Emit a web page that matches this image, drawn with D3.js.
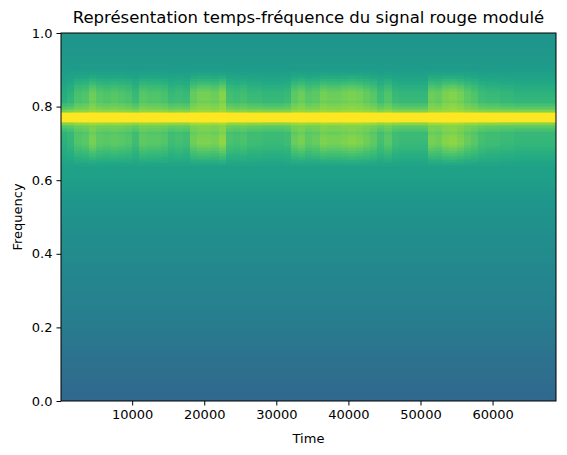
<!DOCTYPE html>
<html><head><meta charset="utf-8">
<script src="https://cdn.jsdelivr.net/npm/d3@7"></script>
<style>body{margin:0;background:#fff}text{font-family:"DejaVu Sans",sans-serif}</style>
</head><body><svg id="c" width="567" height="455"></svg>
<script>
const title = "Représentation temps-fréquence du signal rouge modulé";
const xTicks = [10000,20000,30000,40000,50000,60000];
const yTicks = [0,0.2,0.4,0.6,0.8,1.0];
// background colormap level vs frequency
const bgFreq  = [0,0.05,0.1,0.15,0.2,0.25,0.3,0.35,0.4,0.45,0.5,0.55,0.6,0.65,0.7,0.75,0.8,0.85,0.9,0.95,1.0];
const bgLevel = [0.33,0.35,0.37,0.39,0.41,0.43,0.45,0.46,0.48,0.49,0.51,0.53,0.56,0.58,0.61,0.64,0.63,0.58,0.55,0.53,0.52];
// carrier at 0.772: extra level vs offset
const carrierF = 0.772;
const carrierOff = [-0.04,-0.035,-0.03,-0.025,-0.02,-0.015,-0.01,-0.005,0,0.005,0.01,0.015,0.02,0.025,0.03,0.035,0.04];
const carrierAdd = [0.02,0.04,0.06,0.09,0.13,0.2,0.4,0.4,0.4,0.4,0.4,0.2,0.13,0.09,0.06,0.04,0.02];
// sideband shape vs frequency
const sbFreq = [0.64,0.66,0.68,0.70,0.72,0.74,0.75,0.79,0.80,0.82,0.84,0.86,0.88,0.90];
const sbAmp  = [0,0.1,0.18,0.26,0.24,0.16,0.08,0.08,0.16,0.24,0.26,0.18,0.08,0];
// sideband activity per 1000-time bin
const binStart = d3.range(0,69000,1000);
const activity = [0.1,0.2,0.45,0.5,0.7,0.55,0.5,0.55,0.5,0.45,0.3,0.55,0.5,0.5,0.45,0.3,0.35,0.3,0.65,0.75,0.75,0.7,0.85,0.4,0.35,0.4,0.3,0.3,0.25,0.25,0.25,0.3,0.6,0.7,0.55,0.6,0.75,0.7,0.7,0.75,0.8,0.75,0.65,0.55,0.35,0.5,0.3,0.25,0.25,0.25,0.25,0.7,0.65,0.8,0.85,0.75,0.6,0.5,0.35,0.3,0.3,0.25,0.25,0.2,0.2,0.2,0.2,0.2,0.2];

const W=567,H=455,m={l:61,r:11,t:33,b:54};
const svg=d3.select("#c");
const x=d3.scaleLinear().domain([128,68800]).range([m.l,W-m.r]);
const y=d3.scaleLinear().domain([0,1]).range([H-m.b,m.t]);
const bg=d3.scaleLinear().domain(bgFreq).range(bgLevel);
const car=d3.scaleLinear().domain(carrierOff).range(carrierAdd).clamp(true);
const sb=d3.scaleLinear().domain(sbFreq).range(sbAmp).clamp(true);
const fStep=0.004;
const freqs=d3.range(0,1,fStep);
const cells=[];
binStart.forEach((t,i)=>freqs.forEach(f=>{
  const fc=f+fStep/2, off=fc-carrierF;
  let v=bg(fc)+(Math.abs(off)<=0.04?car(off):0)+activity[i]*sb(fc);
  cells.push({t,f,v:Math.min(1,v)});
}));
svg.append("clipPath").attr("id","cp").append("rect").attr("x",m.l).attr("y",m.t).attr("width",W-m.l-m.r).attr("height",H-m.t-m.b);
svg.append("g").attr("clip-path","url(#cp)").attr("shape-rendering","crispEdges").selectAll("rect").data(cells).join("rect")
 .attr("x",d=>x(d.t)).attr("width",d=>x(d.t+1000)-x(d.t)+0.5)
 .attr("y",d=>y(d.f+fStep)).attr("height",d=>y(d.f)-y(d.f+fStep)+0.5)
 .attr("fill",d=>d3.interpolateViridis(d.v));
const gx=svg.append("g").attr("transform",`translate(0,${H-m.b})`).call(d3.axisBottom(x).tickValues(xTicks).tickFormat(d3.format("d")).tickSizeOuter(0).tickSize(4.5).tickPadding(4));
const gy=svg.append("g").attr("transform",`translate(${m.l},0)`).call(d3.axisLeft(y).tickValues(yTicks).tickFormat(d3.format(".1f")).tickSizeOuter(0).tickSize(4.5).tickPadding(4));
[gx,gy].forEach(g=>{g.selectAll("text").attr("font-size",13).attr("fill","#000").attr("font-family","DejaVu Sans");g.select(".domain").remove();});
svg.append("rect").attr("x",m.l).attr("y",m.t).attr("width",W-m.l-m.r).attr("height",H-m.t-m.b).attr("fill","none").attr("stroke","#000").attr("stroke-width",1);
svg.append("text").attr("x",(m.l+W-m.r)/2).attr("y",443).attr("text-anchor","middle").attr("font-size",13).text("Time");
svg.append("text").attr("transform",`translate(22,${(m.t+H-m.b)/2}) rotate(-90)`).attr("text-anchor","middle").attr("font-size",13).text("Frequency");
svg.append("text").attr("x",(m.l+W-m.r)/2).attr("y",23).attr("text-anchor","middle").attr("font-size",16.5).text(title);
</script></body></html>
